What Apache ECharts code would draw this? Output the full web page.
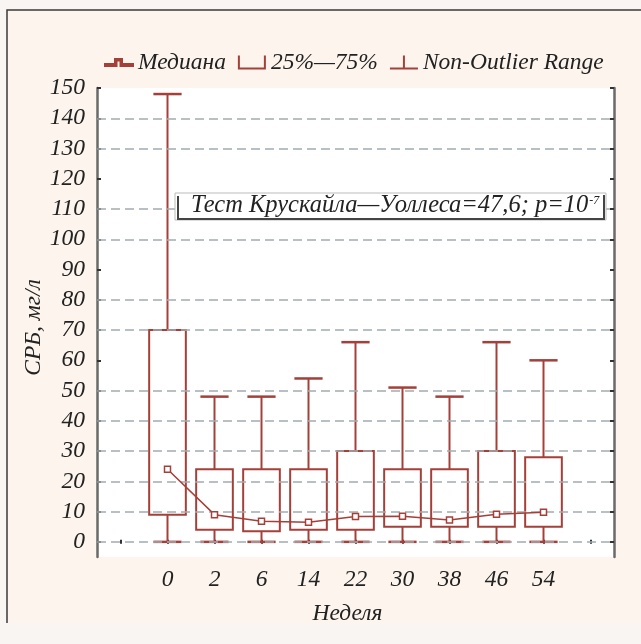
<!DOCTYPE html>
<html>
<head>
<meta charset="utf-8">
<script src="https://cdn.jsdelivr.net/npm/echarts@6/dist/echarts.min.js"></script>
<style>
  html, body { margin: 0; padding: 0; }
  #main { width: 641px; height: 644px; }
</style>
</head>
<body>
<div id="main"></div>
<script>
// Weeks (x categories), empty slots at both ends like the original plot
const weeks = ['0', '2', '6', '14', '22', '30', '38', '46', '54'];
const categories = [' ', ...weeks, '  '];

// Box values (mg/l)
const median = [24, 9, 6.8, 6.5, 8.4, 8.5, 7.2, 9.1, 9.8];
const q1 = [9, 4, 3.5, 4, 4, 5, 5, 5, 5];
const q3 = [70, 24, 24, 24, 30, 24, 24, 30, 28];
const whiskerLow = [0, 0, 0, 0, 0, 0, 0, 0, 0];
const whiskerHigh = [148, 48, 48, 54, 66, 51, 48, 66, 60];

// Y axis ticks and the dashed grid lines that are visible
const yTicks = [0, 10, 20, 30, 40, 50, 60, 70, 80, 90, 100, 110, 120, 130, 140, 150];
const gridValues = [0, 10, 20, 30, 40, 50, 70, 80, 100, 110, 130, 140];

const RED = '#a4403a';
const FONT = 'Liberation Serif';

let myChart = echarts.init(document.getElementById('main'));

// Whisker: vertical line + caps
function renderWhisker(params, api) {
    const x = api.value(0);
    const low = api.coord([x, api.value(1)]);
    const high = api.coord([x, api.value(2)]);
    const capW = api.size([1, 0])[0] * 0.6;
    const style = { stroke: RED, lineWidth: 2 };
    const capStyle = { stroke: RED, lineWidth: 2.5 };
    return {
        type: 'group',
        children: [
            { type: 'line', shape: { x1: low[0], y1: low[1], x2: high[0], y2: high[1] }, style: style },
            { type: 'line', shape: { x1: low[0] - capW / 2, y1: low[1], x2: low[0] + capW / 2, y2: low[1] }, style: capStyle },
            { type: 'line', shape: { x1: high[0] - capW / 2, y1: high[1], x2: high[0] + capW / 2, y2: high[1] }, style: capStyle }
        ]
    };
}

// Box: 25%-75%
function renderBox(params, api) {
    const x = api.value(0);
    const bottom = api.coord([x, api.value(1)]);
    const top = api.coord([x, api.value(2)]);
    const w = api.size([1, 0])[0] * 0.78;
    return {
        type: 'rect',
        shape: { x: bottom[0] - w / 2, y: top[1], width: w, height: bottom[1] - top[1] },
        style: { fill: '#fff', stroke: RED, lineWidth: 2 }
    };
}

const labelStyle = { fontFamily: FONT, fontStyle: 'italic', fontSize: 23.5, color: '#222' };

let option = {
    backgroundColor: '#f8f5f2',
    animation: false,
    graphic: [
        {
            type: 'rect', z: -10,
            shape: { x: 7, y: 10, width: 634, height: 613 },
            style: { fill: '#fcf4ed' }
        },
        {
            type: 'polyline', z: -9,
            shape: { points: [[7, 623], [7, 10], [641, 10]] },
            style: { stroke: '#3a3a3a', lineWidth: 1.5, fill: null }
        },
        {
            type: 'rect', z: 100,
            shape: { x: 175, y: 193, width: 431, height: 27 },
            style: { fill: '#fff', stroke: '#bbb', lineWidth: 1 }
        },
        {
            type: 'polyline', z: 101,
            shape: { points: [[178, 196], [178, 219], [604, 219], [604, 195]] },
            style: { stroke: '#444', lineWidth: 2, fill: null }
        },
        {
            type: 'text', z: 102,
            x: 191, y: 206,
            style: {
                text: '{t|Тест Крускайла—Уоллеса=47,6; p=10}{s|-7}',
                verticalAlign: 'middle',
                rich: {
                    t: { fontFamily: FONT, fontStyle: 'italic', fontSize: 24.5, fill: '#222' },
                    s: { fontFamily: FONT, fontStyle: 'italic', fontSize: 12, fill: '#222', padding: [0, 0, 11, 1] }
                }
            }
        }
    ],
    legend: {
        left: 99,
        top: 46,
        itemWidth: 28,
        itemHeight: 14,
        itemGap: 12,
        textStyle: { fontFamily: FONT, fontStyle: 'italic', fontSize: 23.5, color: '#222' },
        data: [
            { name: 'Медиана', icon: 'path://M0,9 L10,9 L10,4 L17,4 L17,9 L28,9 L28,11 L15.5,11 L15.5,5.5 L11.5,5.5 L11.5,11 L0,11 Z', itemStyle: { color: RED } },
            { name: '25%—75%', icon: 'path://M0,0 L2,0 L2,12 L26,12 L26,0 L28,0 L28,14 L0,14 Z', itemStyle: { color: RED } },
            { name: 'Non-Outlier Range', icon: 'path://M13,0 L15,0 L15,12 L28,12 L28,14 L0,14 L0,12 L13,12 Z', itemStyle: { color: RED } }
        ]
    },
    grid: {
        left: 97,
        right: 27,
        top: 88,
        bottom: 87,
        show: true,
        backgroundColor: '#fff',
        borderWidth: 0
    },
    xAxis: [
        {
            type: 'category',
            data: categories,
            position: 'bottom',
            axisLine: { show: false },
            axisTick: { show: true, inside: true, alignWithLabel: true, length: 2, lineStyle: { color: '#333', width: 2 } },
            axisLabel: Object.assign({ margin: 11 }, labelStyle),
            name: 'Неделя',
            nameLocation: 'middle',
            nameGap: 45,
            nameTextStyle: Object.assign({ padding: [0, 16, 0, 0] }, labelStyle),
            splitLine: { show: false }
        },
        {
            type: 'category',
            data: categories,
            position: 'top',
            axisLine: { show: false },
            axisTick: { show: true, inside: true, alignWithLabel: true, length: 2, lineStyle: { color: '#333', width: 2 } },
            axisLabel: { show: false },
            splitLine: { show: false }
        }
    ],
    yAxis: [
        {
            type: 'value',
            min: -5,
            max: 150,
            position: 'left',
            axisLine: { show: true, lineStyle: { color: '#6a6a6a', width: 2.5 } },
            axisTick: { show: true, inside: true, length: 4, customValues: yTicks, lineStyle: { color: '#333', width: 2 } },
            axisLabel: Object.assign({ margin: 12, customValues: yTicks }, labelStyle),
            splitLine: { show: false },
            name: 'СРБ, мг/л',
            nameLocation: 'middle',
            nameGap: 52,
            nameMoveOverlap: false,
            nameTextStyle: Object.assign({ padding: [0, 10, 0, 0] }, labelStyle)
        },
        {
            type: 'value',
            min: -5,
            max: 150,
            position: 'right',
            axisLine: { show: true, lineStyle: { color: '#6a6a6a', width: 2.5 } },
            axisTick: { show: true, inside: true, length: 4, customValues: yTicks, lineStyle: { color: '#333', width: 2 } },
            axisLabel: { show: false },
            splitLine: { show: false }
        }
    ],
    series: [
        {
            // grid lines only
            name: 'grid',
            type: 'line',
            data: [],
            z: 1,
            silent: true,
            markLine: {
                silent: true,
                symbol: 'none',
                label: { show: false },
                lineStyle: { type: [9, 5], color: '#a2acb1', width: 1.5 },
                data: gridValues.map(v => ({ yAxis: v }))
            }
        },
        {
            name: 'Non-Outlier Range',
            type: 'custom',
            z: 3,
            renderItem: renderWhisker,
            encode: { x: 0, y: [1, 2] },
            data: weeks.map((w, i) => [w, whiskerLow[i], whiskerHigh[i]])
        },
        {
            name: '25%—75%',
            type: 'custom',
            z: 4,
            renderItem: renderBox,
            encode: { x: 0, y: [1, 2] },
            data: weeks.map((w, i) => [w, q1[i], q3[i]])
        },
        {
            name: 'Медиана',
            type: 'line',
            z: 5,
            color: RED,
            symbol: 'rect',
            symbolSize: 6,
            showAllSymbol: true,
            lineStyle: { color: RED, width: 1.5 },
            itemStyle: { color: '#fff', borderColor: RED, borderWidth: 1.5 },
            data: weeks.map((w, i) => [w, median[i]])
        }
    ]
};

option && myChart.setOption(option);
</script>
</body>
</html>
